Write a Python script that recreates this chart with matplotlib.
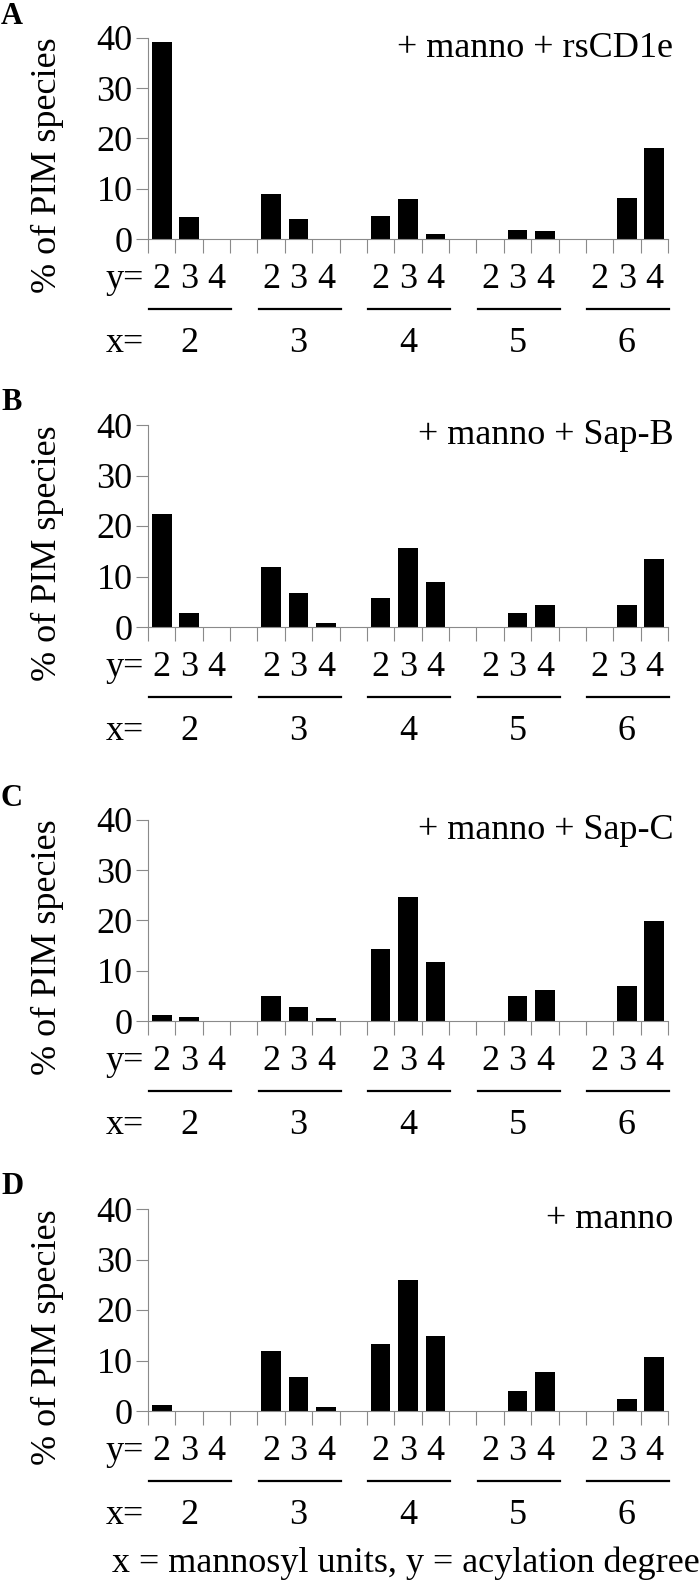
import numpy as np
import matplotlib
matplotlib.use("Agg")
import matplotlib.pyplot as plt

plt.rcParams['font.family'] = ['Liberation Serif', 'DejaVu Serif']

# data: % of PIM species per (mannosyl units x, acylation degree y)
mannosyl = [2, 3, 4, 5, 6]
acylation = [2, 3, 4]
panel_letters = ['A', 'B', 'C', 'D']
conditions = ['+ manno + rsCD1e', '+ manno + Sap-B', '+ manno + Sap-C', '+ manno']
vals_A = [39.3, 4.4, 0, 8.9, 4.0, 0, 4.6, 7.9, 0.9, 0, 1.8, 1.6, 0, 8.2, 18.2]
vals_B = [22.3, 2.8, 0, 11.9, 6.7, 0.7, 5.7, 15.7, 9.0, 0, 2.8, 4.3, 0, 4.3, 13.4]
vals_C = [1.2, 0.8, 0, 5.0, 2.8, 0.6, 14.3, 24.7, 11.8, 0, 5.0, 6.1, 0, 6.9, 19.9]
vals_D = [1.1, 0, 0, 11.8, 6.8, 0.7, 13.2, 25.9, 14.9, 0, 4.0, 7.7, 0, 2.3, 10.6]
all_vals = [vals_A, vals_B, vals_C, vals_D]

W, H = 700, 1581
fig = plt.figure(figsize=(W / 100, H / 100), dpi=100)

# pixel positions (top of axis at 40, zero line) for each panel
tops = [38, 425, 820, 1209]
zeros = [239, 627, 1021, 1411]
left_px, right_px = 148, 668

ncat = len(mannosyl) * 4 - 1
gray = '#8a8a8a'
fs = 26

for k in range(4):
    ax = fig.add_axes([left_px / W, 1 - zeros[k] / H, (right_px - left_px) / W, (zeros[k] - tops[k]) / H])
    ax_h = zeros[k] - tops[k]
    pos = [g * 4 + a + 0.5 for g in range(len(mannosyl)) for a in range(len(acylation))]
    ax.bar(pos, all_vals[k], width=0.72, color='black')
    ax.set_xlim(0, ncat)
    ax.set_ylim(0, 40)
    ax.set_yticks([0, 10, 20, 30, 40])
    ax.set_xticks(range(ncat + 1))
    ax.set_xticklabels([])
    ax.tick_params(axis='y', direction='out', length=9, width=0.8, color=gray,
                   labelsize=fs, pad=2)
    ax.tick_params(axis='x', direction='out', length=10, width=0.8, color=gray)
    for s in ['top', 'right']:
        ax.spines[s].set_visible(False)
    for s in ['left', 'bottom']:
        ax.spines[s].set_color(gray)
        ax.spines[s].set_linewidth(0.8)

    trans = ax.get_xaxis_transform()
    # y= row
    ax.text(-0.15, -41 / ax_h, 'y=', transform=trans, ha='right', va='center', fontsize=fs)
    for g in range(len(mannosyl)):
        for a, yv in enumerate(acylation):
            ax.text(g * 4 + a + 0.5, -41 / ax_h, str(yv), transform=trans,
                    ha='center', va='center', fontsize=fs)
        ax.plot([g * 4 + 0.05, g * 4 + 3.05], [-70 / ax_h, -70 / ax_h], transform=trans,
                color='black', lw=1.6, clip_on=False)
        ax.text(g * 4 + 1.5, -104 / ax_h, str(mannosyl[g]), transform=trans,
                ha='center', va='center', fontsize=fs)
    ax.text(-0.15, -104 / ax_h, 'x=', transform=trans, ha='right', va='center', fontsize=fs)

    ax.text(1.01, 0.95, conditions[k], transform=ax.transAxes, ha='right', va='center', fontsize=fs)

    fig.text(47 / W, 1 - (zeros[k] - 74) / H, '% of PIM species', rotation=90,
             ha='center', va='center', fontsize=fs)
    fig.text(1 / W, 1 - (tops[k] - 22) / H, panel_letters[k], ha='left', va='center',
             fontsize=22, fontweight='bold')

fig.text(1.0, 1 - 1563 / H, 'x = mannosyl units, y = acylation degree', ha='right', va='center',
         fontsize=fs)

fig.savefig('out.png', dpi=100)
